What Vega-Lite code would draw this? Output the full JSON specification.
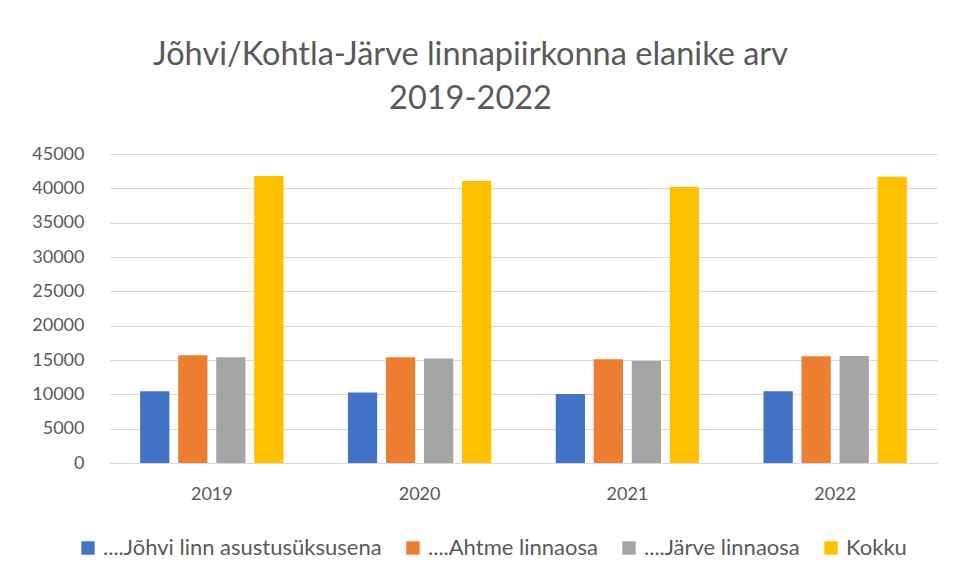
{
  "$schema": "https://vega.github.io/schema/vega-lite/v6.json",
  "width": 827,
  "height": 309,
  "autosize": {"type": "none"},
  "padding": {"left": 110, "top": 154, "right": 20, "bottom": 115},
  "background": "white",
  "title": {
    "text": ["Jõhvi/Kohtla-Järve linnapiirkonna elanike arv", "2019-2022"],
    "font": "Lato",
    "fontSize": 32.5,
    "fontWeight": "normal",
    "color": "#595959",
    "anchor": "middle",
    "dx": -53,
    "offset": 30,
    "lineHeight": 44
  },
  "data": {
    "values": [
      {"aasta": "2019", "seeria": "....Jõhvi linn asustusüksusena", "elanikke": 10450},
      {"aasta": "2019", "seeria": "....Ahtme linnaosa", "elanikke": 15700},
      {"aasta": "2019", "seeria": "....Järve linnaosa", "elanikke": 15410},
      {"aasta": "2019", "seeria": "Kokku", "elanikke": 41790},
      {"aasta": "2020", "seeria": "....Jõhvi linn asustusüksusena", "elanikke": 10260},
      {"aasta": "2020", "seeria": "....Ahtme linnaosa", "elanikke": 15410},
      {"aasta": "2020", "seeria": "....Järve linnaosa", "elanikke": 15220},
      {"aasta": "2020", "seeria": "Kokku", "elanikke": 41060},
      {"aasta": "2021", "seeria": "....Jõhvi linn asustusüksusena", "elanikke": 10060},
      {"aasta": "2021", "seeria": "....Ahtme linnaosa", "elanikke": 15120},
      {"aasta": "2021", "seeria": "....Järve linnaosa", "elanikke": 14870},
      {"aasta": "2021", "seeria": "Kokku", "elanikke": 40190},
      {"aasta": "2022", "seeria": "....Jõhvi linn asustusüksusena", "elanikke": 10450},
      {"aasta": "2022", "seeria": "....Ahtme linnaosa", "elanikke": 15550},
      {"aasta": "2022", "seeria": "....Järve linnaosa", "elanikke": 15600},
      {"aasta": "2022", "seeria": "Kokku", "elanikke": 41690}
    ]
  },
  "mark": {"type": "bar"},
  "encoding": {
    "x": {
      "field": "aasta",
      "type": "nominal",
      "scale": {"paddingInner": 0.31, "paddingOuter": 0.145},
      "axis": {
        "title": null,
        "labelAngle": 0,
        "ticks": false,
        "domainColor": "#D9D9D9",
        "domainWidth": 1,
        "labelPadding": 22,
        "labelFont": "Lato",
        "labelFontSize": 18,
        "labelColor": "#595959"
      }
    },
    "xOffset": {
      "field": "seeria",
      "type": "nominal",
      "sort": ["....Jõhvi linn asustusüksusena", "....Ahtme linnaosa", "....Järve linnaosa", "Kokku"],
      "scale": {"paddingInner": 0.23, "paddingOuter": 0}
    },
    "y": {
      "field": "elanikke",
      "type": "quantitative",
      "scale": {"domain": [0, 45000]},
      "axis": {
        "title": null,
        "values": [0, 5000, 10000, 15000, 20000, 25000, 30000, 35000, 40000, 45000],
        "format": "d",
        "ticks": false,
        "domain": false,
        "gridColor": "#D9D9D9",
        "gridWidth": 1,
        "labelPadding": 26,
        "labelFont": "Lato",
        "labelFontSize": 18,
        "labelColor": "#595959"
      }
    },
    "color": {
      "field": "seeria",
      "type": "nominal",
      "sort": ["....Jõhvi linn asustusüksusena", "....Ahtme linnaosa", "....Järve linnaosa", "Kokku"],
      "scale": {
        "domain": ["....Jõhvi linn asustusüksusena", "....Ahtme linnaosa", "....Järve linnaosa", "Kokku"],
        "range": ["#4472C4", "#ED7D31", "#A5A5A5", "#FFC000"]
      },
      "legend": {
        "title": null,
        "orient": "none",
        "direction": "horizontal",
        "legendX": -33,
        "legendY": 383,
        "symbolType": "square",
        "symbolSize": 180,
        "symbolStrokeWidth": 0,
        "symbolOpacity": 1,
        "labelFont": "Lato",
        "labelFontSize": 22,
        "labelLimit": 0,
        "labelColor": "#595959",
        "columnPadding": 20,
        "labelOffset": 4
      }
    }
  },
  "config": {
    "view": {"stroke": null}
  }
}
